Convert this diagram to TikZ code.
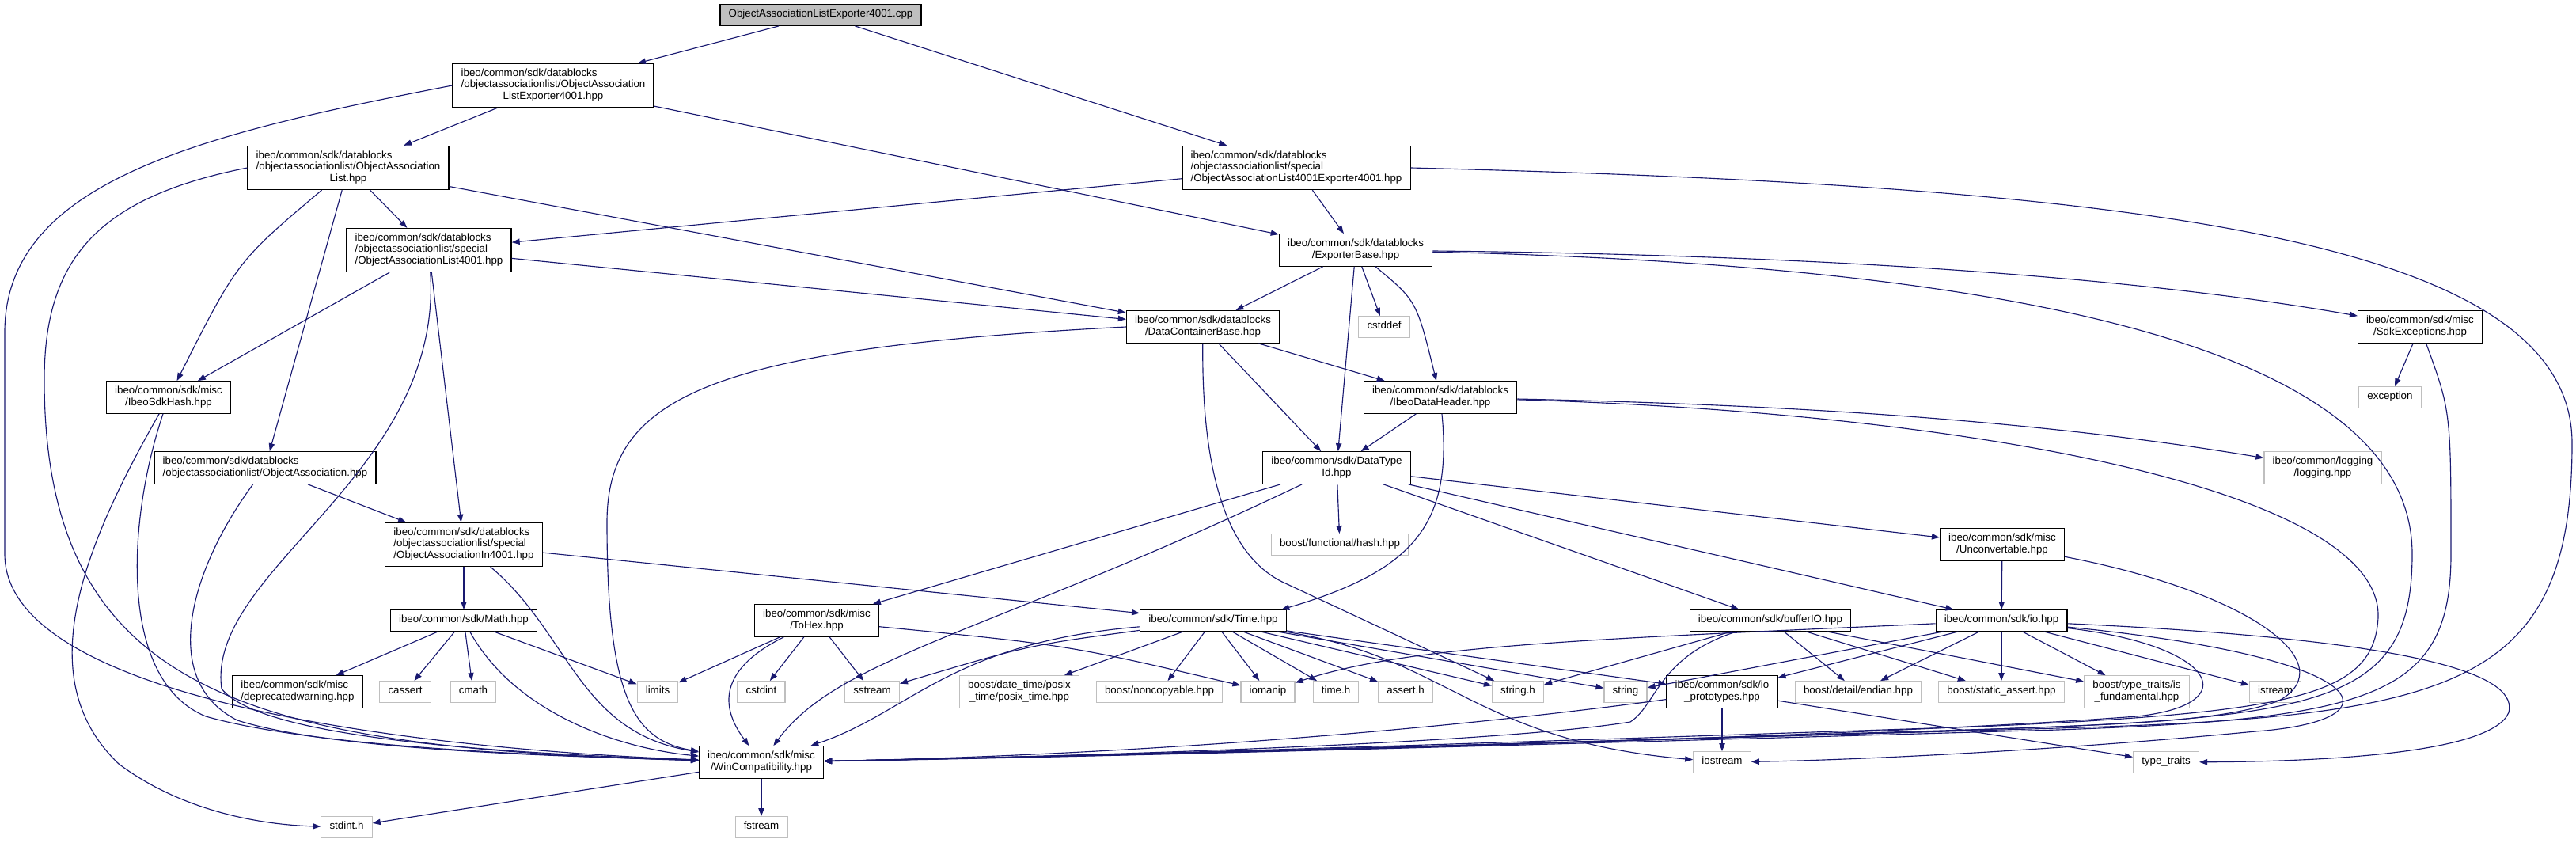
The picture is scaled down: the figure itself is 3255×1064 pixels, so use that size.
\documentclass[tikz,border=0pt]{standalone}
\usepackage{fontspec}
\setmainfont{Liberation Sans}
\usetikzlibrary{arrows.meta}

\definecolor{edgeblue}{HTML}{191970}
\definecolor{boxgray}{HTML}{BFBFBF}

\newcommand{\pathtwo}[2]{\begin{tabular}{@{}l@{}}#1\\\multicolumn{1}{@{}c@{}}{#2}\end{tabular}}
\newcommand{\paththree}[3]{\begin{tabular}{@{}l@{}}#1\\#2\\\multicolumn{1}{@{}c@{}}{#3}\end{tabular}}

\tikzset{
  filebox/.style={draw=black, line width=0.9pt, fill=white, font=\fontsize{10}{11}\selectfont,
    inner xsep=8pt, inner ysep=4.2pt, minimum height=20pt, execute at begin node=\strut},
  sysbox/.style={filebox, draw=boxgray},
  rootbox/.style={filebox, fill=boxgray},
  inc/.style={->, draw=edgeblue, line width=0.85pt},
}

\begin{document}
\begin{tikzpicture}[x=0.75pt, y=-0.75pt, >={Triangle[length=7.5pt,width=5.5pt]}]
\useasboundingbox (0,0) rectangle (3255,1064);

% files
\node[rootbox] (root) at (1037,19) {ObjectAssociationListExporter4001.cpp};
\node[filebox] (exp) at (699,108) {\paththree{ibeo/common/sdk/datablocks}{/objectassociationlist/ObjectAssociation}{ListExporter4001.hpp}};
\node[filebox] (oal) at (440,212) {\paththree{ibeo/common/sdk/datablocks}{/objectassociationlist/ObjectAssociation}{List.hpp}};
\node[filebox] (oalx) at (1638,212) {\paththree{ibeo/common/sdk/datablocks}{/objectassociationlist/special}{/ObjectAssociationList4001Exporter4001.hpp}};
\node[filebox] (oal4) at (542,316) {\paththree{ibeo/common/sdk/datablocks}{/objectassociationlist/special}{/ObjectAssociationList4001.hpp}};
\node[filebox] (expb) at (1713,316) {\pathtwo{ibeo/common/sdk/datablocks}{/ExporterBase.hpp}};
\node[filebox] (dcb) at (1520,413) {\pathtwo{ibeo/common/sdk/datablocks}{/DataContainerBase.hpp}};
\node[sysbox] (cstddef) at (1749,413) {cstddef};
\node[filebox] (sdkexc) at (3058,413) {\pathtwo{ibeo/common/sdk/misc}{/SdkExceptions.hpp}};
\node[filebox] (hash) at (213,502) {\pathtwo{ibeo/common/sdk/misc}{/IbeoSdkHash.hpp}};
\node[filebox] (hdr) at (1820,502) {\pathtwo{ibeo/common/sdk/datablocks}{/IbeoDataHeader.hpp}};
\node[sysbox] (exception) at (3020,502) {exception};
\node[filebox] (oa) at (335,591) {\pathtwo{ibeo/common/sdk/datablocks}{/objectassociationlist/ObjectAssociation.hpp}};
\node[filebox] (dtid) at (1689,591) {\pathtwo{ibeo/common/sdk/DataType}{Id.hpp}};
\node[sysbox] (logging) at (2935,591) {\pathtwo{ibeo/common/logging}{/logging.hpp}};
\node[filebox] (oain) at (586,688) {\paththree{ibeo/common/sdk/datablocks}{/objectassociationlist/special}{/ObjectAssociationIn4001.hpp}};
\node[sysbox] (bhash) at (1693,688) {boost/functional/hash.hpp};
\node[filebox] (unconv) at (2530,688) {\pathtwo{ibeo/common/sdk/misc}{/Unconvertable.hpp}};
\node[filebox] (math) at (586,784) {ibeo/common/sdk/Math.hpp};
\node[filebox] (tohex) at (1032,784) {\pathtwo{ibeo/common/sdk/misc}{/ToHex.hpp}};
\node[filebox] (time) at (1533,784) {ibeo/common/sdk/Time.hpp};
\node[filebox] (bufio) at (2237,784) {ibeo/common/sdk/bufferIO.hpp};
\node[filebox] (io) at (2529,784) {ibeo/common/sdk/io.hpp};
\node[filebox] (depr) at (376,874) {\pathtwo{ibeo/common/sdk/misc}{/deprecatedwarning.hpp}};
\node[sysbox] (cassert) at (512,874) {cassert};
\node[sysbox] (cmath) at (598,874) {cmath};
\node[sysbox] (limits) at (831,874) {limits};
\node[sysbox] (cstdint) at (962,874) {cstdint};
\node[sysbox] (sstream) at (1102,874) {sstream};
\node[sysbox] (posix) at (1288,874) {\pathtwo{boost/date\_time/posix}{\_time/posix\_time.hpp}};
\node[sysbox] (noncopy) at (1465,874) {boost/noncopyable.hpp};
\node[sysbox] (iomanip) at (1602,874) {iomanip};
\node[sysbox] (timeh) at (1688,874) {time.h};
\node[sysbox] (asserth) at (1776,874) {assert.h};
\node[sysbox] (stringh) at (1918,874) {string.h};
\node[sysbox] (string) at (2054,874) {string};
\node[filebox] (iop) at (2176,874) {\pathtwo{ibeo/common/sdk/io}{\_prototypes.hpp}};
\node[sysbox] (endian) at (2348,874) {boost/detail/endian.hpp};
\node[sysbox] (sassert) at (2529,874) {boost/static\_assert.hpp};
\node[sysbox] (isfund) at (2700,874) {\pathtwo{boost/type\_traits/is}{\_fundamental.hpp}};
\node[sysbox] (istream) at (2875,874) {istream};
\node[filebox] (wincomp) at (962,963) {\pathtwo{ibeo/common/sdk/misc}{/WinCompatibility.hpp}};
\node[sysbox] (iostream) at (2176,963) {iostream};
\node[sysbox] (ttraits) at (2737,963) {type\_traits};
\node[sysbox] (stdinth) at (438,1045) {stdint.h};
\node[sysbox] (fstream) at (962,1045) {fstream};

% source file
\draw[inc] (root) -- (exp);
\draw[inc] (root) -- (oalx);

% ObjectAssociationListExporter4001.hpp
\draw[inc] (exp) -- (oal);
\draw[inc] (exp) -- (expb);
\draw[inc] (exp.west) .. controls (250,170) and (6,230) .. (6,420) -- (6,700) .. controls (6,880) and (500,945) .. (wincomp);

% ObjectAssociationList.hpp
\draw[inc] (oal.west) .. controls (120,250) and (56,330) .. (56,480) .. controls (56,880) and (320,945) .. (wincomp);
\draw[inc] (oal) .. controls (300,330) .. (hash);
\draw[inc] (oal) -- (oa);
\draw[inc] (oal) -- (oal4);
\draw[inc] (oal) -- (dcb);

% ObjectAssociationList4001Exporter4001.hpp
\draw[inc] (oalx) -- (oal4);
\draw[inc] (oalx) -- (expb);
\draw[inc] (oalx.east) .. controls (2700,235) and (3250,300) .. (3250,560) .. controls (3250,870) and (3100,905) .. (2600,920) .. controls (1900,940) and (1400,955) .. (wincomp);

% ObjectAssociationList4001.hpp
\draw[inc] (oal4) -- (hash);
\draw[inc] (oal4) -- (oain);
\draw[inc] (oal4) -- (dcb);
\draw[inc] (oal4) .. controls (560,600) and (260,720) .. (280,870) .. controls (330,935) and (650,952) .. (wincomp);

% ExporterBase.hpp
\draw[inc] (expb) -- (dcb);
\draw[inc] (expb) -- (dtid);
\draw[inc] (expb) -- (cstddef);
\draw[inc] (expb) .. controls (1790,380) .. (hdr);
\draw[inc] (expb) .. controls (2300,322) and (2700,350) .. (sdkexc);
\draw[inc] (expb) .. controls (2550,335) and (3048,440) .. (3048,700) .. controls (3048,880) and (2950,905) .. (2550,920) .. controls (1900,940) and (1400,955) .. (wincomp);

% DataContainerBase.hpp
\draw[inc] (dcb) -- (dtid);
\draw[inc] (dcb) -- (hdr);
\draw[inc] (dcb.west) .. controls (900,440) and (767,500) .. (767,660) .. controls (767,880) and (800,935) .. (wincomp);
\draw[inc] (dcb) .. controls (1518,620) and (1560,705) .. (1620,735) -- (stringh);

% IbeoDataHeader.hpp
\draw[inc] (hdr) -- (dtid);
\draw[inc] (hdr) .. controls (1835,660) and (1790,720) .. ([xshift=-5pt]time.north east);
\draw[inc] (hdr) .. controls (2300,512) and (2600,535) .. (logging);
\draw[inc] (hdr) .. controls (2500,522) and (3010,620) .. (3005,780) .. controls (3000,880) and (2900,900) .. (2500,918) .. controls (1900,938) and (1400,955) .. (wincomp);

% SdkExceptions.hpp
\draw[inc] (sdkexc) -- (exception);
\draw[inc] (sdkexc) .. controls (3097,520) .. (3097,700) .. controls (3097,880) and (3000,908) .. (2600,922) .. controls (1900,942) and (1400,956) .. (wincomp);

% IbeoSdkHash.hpp
\draw[inc] (hash) .. controls (100,700) and (40,860) .. (150,965) .. controls (230,1025) and (330,1042) .. (stdinth);
\draw[inc] (hash) .. controls (160,660) and (150,860) .. (260,905) .. controls (400,945) and (700,955) .. (wincomp);

% ObjectAssociation.hpp
\draw[inc] (oa) -- (oain);
\draw[inc] (oa) .. controls (240,720) and (200,860) .. (300,910) .. controls (420,948) and (700,955) .. (wincomp);

% DataTypeId.hpp
\draw[inc] (dtid) -- (tohex);
\draw[inc] (dtid) .. controls (1250,800) and (1060,830) .. (wincomp);
\draw[inc] (dtid) -- (bhash);
\draw[inc] (dtid) -- (bufio);
\draw[inc] (dtid) -- (io);
\draw[inc] (dtid) -- (unconv);

% Unconvertable.hpp
\draw[inc] (unconv) -- (io);
\draw[inc] (unconv) .. controls (2850,750) and (2960,840) .. (2880,885) .. controls (2800,915) and (2650,915) .. (2450,924) .. controls (1900,940) and (1400,955) .. (wincomp);

% ObjectAssociationIn4001.hpp
\draw[inc] (oain) -- (math);
\draw[inc] (oain) .. controls (720,800) and (730,925) .. (wincomp);
\draw[inc] (oain) -- (time);

% Math.hpp
\draw[inc] (math) -- (depr);
\draw[inc] (math) -- (cassert);
\draw[inc] (math) -- (cmath);
\draw[inc] (math) -- (limits);
\draw[inc] (math) .. controls (650,900) and (780,945) .. (wincomp);

% ToHex.hpp
\draw[inc] (tohex) -- (limits);
\draw[inc] (tohex) -- (cstdint);
\draw[inc] (tohex) -- (sstream);
\draw[inc] (tohex) .. controls (1350,815) .. (iomanip);
\draw[inc] (tohex) .. controls (900,850) and (915,900) .. (wincomp);

% Time.hpp
\draw[inc] (time) .. controls (1300,815) .. (sstream);
\draw[inc] (time) .. controls (1200,812) and (1150,900) .. (wincomp);
\draw[inc] (time) -- (posix);
\draw[inc] (time) -- (noncopy);
\draw[inc] (time) -- (iomanip);
\draw[inc] (time) -- (timeh);
\draw[inc] (time) -- (asserth);
\draw[inc] (time) -- (stringh);
\draw[inc] (time) -- (string);
\draw[inc] (time) -- (iop);
\draw[inc] (time) .. controls (1830,830) and (1860,935) .. (iostream);

% bufferIO.hpp
\draw[inc] (bufio) -- (stringh);
\draw[inc] (bufio) -- (endian);
\draw[inc] (bufio) -- (sassert);
\draw[inc] (bufio) -- (isfund);
\draw[inc] (bufio) .. controls (2095,830) and (2094,890) .. (2060,912) .. controls (1900,938) and (1400,955) .. (wincomp);

% io.hpp
\draw[inc] (io) .. controls (2000,808) and (1780,815) .. (iomanip);
\draw[inc] (io) -- (string);
\draw[inc] (io) -- (iop);
\draw[inc] (io) -- (endian);
\draw[inc] (io) -- (sassert);
\draw[inc] (io) -- (isfund);
\draw[inc] (io) -- (istream);
\draw[inc] (io) .. controls (2800,815) and (2840,890) .. (2700,905) .. controls (2300,935) and (1400,955) .. (wincomp);
\draw[inc] (io) .. controls (3000,830) and (3040,910) .. (2850,924) .. controls (2600,948) and (2350,960) .. (iostream);
\draw[inc] (io) .. controls (3100,810) and (3180,860) .. (3170,900) .. controls (3150,950) and (2950,962) .. (ttraits);

% io_prototypes.hpp
\draw[inc] (iop) -- (iostream);
\draw[inc] (iop) -- (ttraits);
\draw[inc] (iop) .. controls (1800,925) and (1400,955) .. (wincomp);

% WinCompatibility.hpp
\draw[inc] (wincomp) -- (stdinth);
\draw[inc] (wincomp) -- (fstream);
\end{tikzpicture}
\end{document}
